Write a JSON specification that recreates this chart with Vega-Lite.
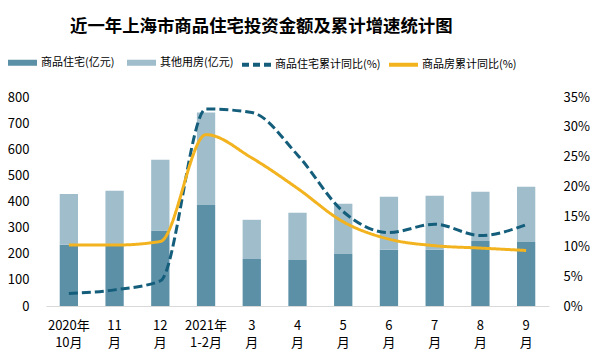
{
  "$schema": "https://vega.github.io/schema/vega-lite/v6.json",
  "width": 503,
  "height": 209,
  "autosize": {"type": "none"},
  "padding": {"left": 46, "top": 97, "right": 57, "bottom": 57},
  "background": "white",
  "title": {
    "text": "近一年上海市商品住宅投资金额及累计增速统计图",
    "anchor": "start",
    "frame": "group",
    "dx": 24,
    "offset": 22,
    "font": "Noto Sans CJK SC",
    "fontSize": 17.4,
    "fontWeight": "bold",
    "color": "#000000"
  },
  "config": {
    "view": {"stroke": null},
    "font": "Noto Sans CJK SC",
    "axis": {"labelFont": "Noto Sans CJK SC", "labelColor": "#000000", "grid": false, "ticks": false, "title": null}
  },
  "datasets": {
    "bars": [
      {"m": "2020年|10月", "series": "商品住宅(亿元)", "v": 234, "k": 0},
      {"m": "2020年|10月", "series": "其他用房(亿元)", "v": 195, "k": 1},
      {"m": "11|月", "series": "商品住宅(亿元)", "v": 230, "k": 0},
      {"m": "11|月", "series": "其他用房(亿元)", "v": 211, "k": 1},
      {"m": "12|月", "series": "商品住宅(亿元)", "v": 289, "k": 0},
      {"m": "12|月", "series": "其他用房(亿元)", "v": 271, "k": 1},
      {"m": "2021年|1-2月", "series": "商品住宅(亿元)", "v": 387, "k": 0},
      {"m": "2021年|1-2月", "series": "其他用房(亿元)", "v": 354, "k": 1},
      {"m": "3|月", "series": "商品住宅(亿元)", "v": 180, "k": 0},
      {"m": "3|月", "series": "其他用房(亿元)", "v": 150, "k": 1},
      {"m": "4|月", "series": "商品住宅(亿元)", "v": 176, "k": 0},
      {"m": "4|月", "series": "其他用房(亿元)", "v": 181, "k": 1},
      {"m": "5|月", "series": "商品住宅(亿元)", "v": 199, "k": 0},
      {"m": "5|月", "series": "其他用房(亿元)", "v": 192, "k": 1},
      {"m": "6|月", "series": "商品住宅(亿元)", "v": 215, "k": 0},
      {"m": "6|月", "series": "其他用房(亿元)", "v": 203, "k": 1},
      {"m": "7|月", "series": "商品住宅(亿元)", "v": 215, "k": 0},
      {"m": "7|月", "series": "其他用房(亿元)", "v": 207, "k": 1},
      {"m": "8|月", "series": "商品住宅(亿元)", "v": 249, "k": 0},
      {"m": "8|月", "series": "其他用房(亿元)", "v": 188, "k": 1},
      {"m": "9|月", "series": "商品住宅(亿元)", "v": 245, "k": 0},
      {"m": "9|月", "series": "其他用房(亿元)", "v": 211, "k": 1}
    ],
    "lines": [
      {"m": "2020年|10月", "series": "商品住宅累计同比(%)", "p": 0.021},
      {"m": "11|月", "series": "商品住宅累计同比(%)", "p": 0.027},
      {"m": "12|月", "series": "商品住宅累计同比(%)", "p": 0.042},
      {"m": "2021年|1-2月", "series": "商品住宅累计同比(%)", "p": 0.330},
      {"m": "3|月", "series": "商品住宅累计同比(%)", "p": 0.324},
      {"m": "4|月", "series": "商品住宅累计同比(%)", "p": 0.253},
      {"m": "5|月", "series": "商品住宅累计同比(%)", "p": 0.158},
      {"m": "6|月", "series": "商品住宅累计同比(%)", "p": 0.123},
      {"m": "7|月", "series": "商品住宅累计同比(%)", "p": 0.137},
      {"m": "8|月", "series": "商品住宅累计同比(%)", "p": 0.118},
      {"m": "9|月", "series": "商品住宅累计同比(%)", "p": 0.136},
      {"m": "2020年|10月", "series": "商品房累计同比(%)", "p": 0.102},
      {"m": "11|月", "series": "商品房累计同比(%)", "p": 0.102},
      {"m": "12|月", "series": "商品房累计同比(%)", "p": 0.108},
      {"m": "2021年|1-2月", "series": "商品房累计同比(%)", "p": 0.287},
      {"m": "3|月", "series": "商品房累计同比(%)", "p": 0.248},
      {"m": "4|月", "series": "商品房累计同比(%)", "p": 0.197},
      {"m": "5|月", "series": "商品房累计同比(%)", "p": 0.141},
      {"m": "6|月", "series": "商品房累计同比(%)", "p": 0.112},
      {"m": "7|月", "series": "商品房累计同比(%)", "p": 0.101},
      {"m": "8|月", "series": "商品房累计同比(%)", "p": 0.097},
      {"m": "9|月", "series": "商品房累计同比(%)", "p": 0.093}
    ]
  },
  "layer": [
    {
      "data": {"name": "bars"},
      "mark": {"type": "bar"},
      "encoding": {
        "x": {
          "field": "m",
          "type": "nominal",
          "sort": null,
          "scale": {"paddingInner": 0.6, "paddingOuter": 0.3},
          "axis": {
            "labelExpr": "split(datum.value, '|')",
            "labelAngle": 0,
            "labelFontSize": 13,
            "labelLineHeight": 17,
            "labelPadding": 13,
            "labelBaseline": "top",
            "domainColor": "#D9D9D9",
            "domainWidth": 1
          }
        },
        "y": {
          "field": "v",
          "type": "quantitative",
          "stack": "zero",
          "scale": {"domain": [0, 800], "nice": false},
          "axis": {
            "orient": "left",
            "values": [0, 100, 200, 300, 400, 500, 600, 700, 800],
            "domain": false,
            "labelPadding": 17,
            "labelFontSize": 13
          }
        },
        "color": {
          "field": "series",
          "type": "nominal",
          "scale": {
            "domain": ["商品住宅(亿元)", "其他用房(亿元)", "商品住宅累计同比(%)", "商品房累计同比(%)"],
            "range": ["#5C90A7", "#9FBDCB", "#145E7C", "#F2B31F"]
          }
        },
        "order": {"field": "k", "type": "quantitative"}
      }
    },
    {
      "data": {"name": "lines"},
      "mark": {"type": "line", "interpolate": "monotone", "strokeWidth": 3},
      "encoding": {
        "x": {"field": "m", "type": "nominal", "sort": null},
        "y": {
          "field": "p",
          "type": "quantitative",
          "scale": {"domain": [0, 0.35], "nice": false},
          "axis": {
            "orient": "right",
            "values": [0, 0.05, 0.1, 0.15, 0.2, 0.25, 0.3, 0.35],
            "format": ".0%",
            "domain": false,
            "labelPadding": 14,
            "labelFontSize": 13
          }
        },
        "color": {
          "field": "series",
          "type": "nominal",
          "legend": {
            "orient": "none",
            "legendX": -39,
            "legendY": -40,
            "direction": "horizontal",
            "columns": 4,
            "title": null,
            "symbolType": "stroke",
            "symbolSize": 841,
            "symbolOffset": 10,
            "labelFont": "Noto Sans CJK SC",
            "labelFontSize": 11,
            "labelColor": "#000000",
            "labelOffset": 13,
            "columnPadding": 0,
            "encode": {
              "symbols": {
                "update": {
                  "strokeWidth": {"signal": "datum.value == '商品住宅(亿元)' || datum.value == '其他用房(亿元)' ? 6 : 4"},
                  "strokeDash": {"signal": "datum.value == '商品住宅累计同比(%)' ? [7, 4] : [1, 0]"}
                }
              }
            }
          }
        },
        "strokeDash": {
          "field": "series",
          "type": "nominal",
          "scale": {"domain": ["商品住宅累计同比(%)", "商品房累计同比(%)"], "range": [[9, 4], [1, 0]]},
          "legend": null
        }
      }
    }
  ],
  "resolve": {"scale": {"y": "independent"}}
}
